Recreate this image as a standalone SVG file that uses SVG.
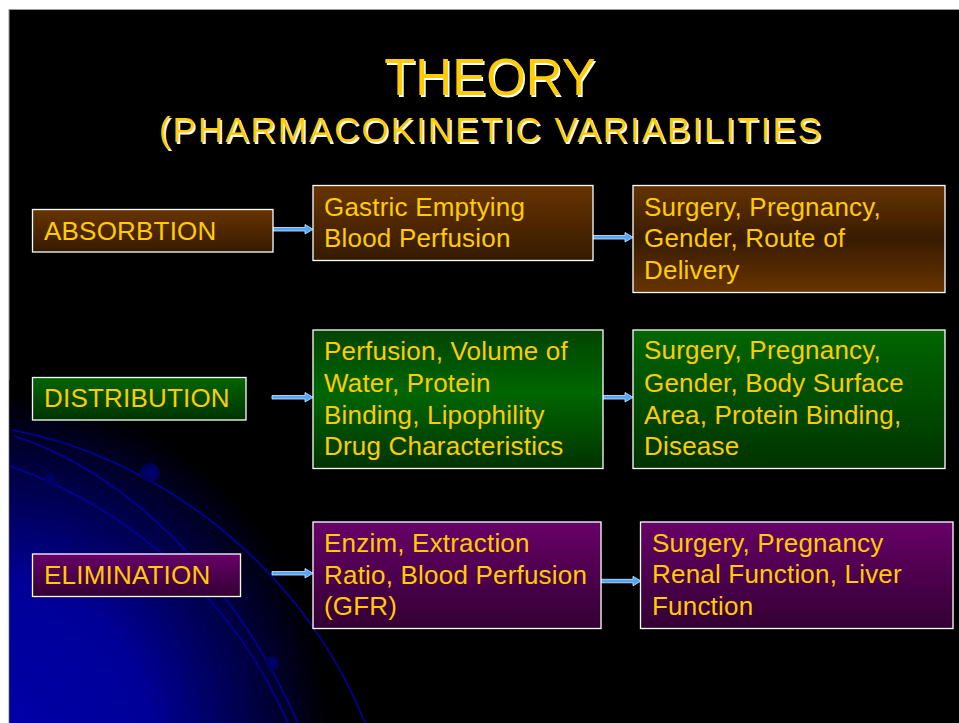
<svg xmlns="http://www.w3.org/2000/svg" width="959" height="723" viewBox="0 0 959 723">
<defs>
<style>
.t{font-family:"Liberation Sans",Arial,sans-serif;font-size:26px;fill:#ffcc00;letter-spacing:0.2px}
.title{font-family:"Liberation Sans",Arial,sans-serif;fill:#ffcc00;text-anchor:middle}
.sh{fill:#ffffff}
.box{stroke:#ffffff;stroke-width:1.3}
.arr{fill:#4da6ff;stroke:#d6ebff;stroke-width:0.8}
.arc{fill:none;stroke:#0000a0;stroke-width:1.6}
</style>
<linearGradient id="brDown" x1="0" y1="0" x2="0" y2="1"><stop offset="0" stop-color="#683400"/><stop offset="1" stop-color="#351a00"/></linearGradient>
<linearGradient id="brMid" x1="0" y1="0" x2="0" y2="1"><stop offset="0" stop-color="#663300"/><stop offset="0.5" stop-color="#381b00"/><stop offset="1" stop-color="#683400"/></linearGradient>
<linearGradient id="grDown" x1="0" y1="0" x2="0" y2="1"><stop offset="0" stop-color="#006600"/><stop offset="1" stop-color="#003300"/></linearGradient>
<linearGradient id="grMid" x1="0" y1="0" x2="0" y2="1"><stop offset="0" stop-color="#004400"/><stop offset="0.45" stop-color="#006600"/><stop offset="1" stop-color="#003300"/></linearGradient>
<linearGradient id="puDown" x1="0" y1="0" x2="0" y2="1"><stop offset="0" stop-color="#680068"/><stop offset="1" stop-color="#330033"/></linearGradient>
<radialGradient id="glow" gradientUnits="userSpaceOnUse" cx="0" cy="740" r="330" gradientTransform="translate(0 740) scale(1 1.05) translate(0 -740)">
<stop offset="0" stop-color="#0000a8"/><stop offset="0.45" stop-color="#000098"/><stop offset="0.75" stop-color="#00004a"/><stop offset="1" stop-color="#000000"/></radialGradient>
<radialGradient id="dot"><stop offset="0" stop-color="#00007a"/><stop offset="1" stop-color="#000050"/></radialGradient>
</defs>

<g id="background">
<rect x="0" y="0" width="959" height="723" fill="#ffffff"/>
<rect x="9" y="9.5" width="960" height="730" fill="#000000" stroke="#9a9a9a" stroke-width="1"/>
<rect x="9.5" y="380" width="420" height="343" fill="url(#glow)"/>
<path class="arc" d="M 12 430 C 150 455, 300 560, 365 723"/>
<path class="arc" d="M 14 436 C 120 470, 230 570, 298 723"/>
<path class="arc" d="M 10 466 C 120 505, 230 590, 288 723"/>
<circle cx="150" cy="473" r="10" fill="url(#dot)"/>
<circle cx="50" cy="480" r="7" fill="url(#dot)"/>
<circle cx="272" cy="663" r="7" fill="url(#dot)"/>
</g>

<g id="title">
<text class="title sh" x="491.5" y="96.5" font-size="51">THEORY</text>
<text class="title" x="490" y="95" font-size="51">THEORY</text>
<text class="title sh" x="492.5" y="143.5" font-size="35" letter-spacing="2">(PHARMACOKINETIC VARIABILITIES</text>
<text class="title" x="491" y="142" font-size="35" letter-spacing="2">(PHARMACOKINETIC VARIABILITIES</text>
</g>

<g id="connectors">
<path class="arr" d="M273 227.5 H305 V224.5 L313 229.3 L305 234 V231 H273 Z"/>
<path class="arr" d="M593 235.5 H625 V232.5 L633 237.3 L625 242 V239 H593 Z"/>
<path class="arr" d="M272 395.5 H305 V392.5 L313 397.3 L305 402 V399 H272 Z"/>
<path class="arr" d="M601 395.5 H625 V392.5 L633 397.3 L625 402 V399 H601 Z"/>
<path class="arr" d="M272 571.5 H305 V568.5 L313 573.3 L305 578 V575 H272 Z"/>
<path class="arr" d="M601 579.3 H633 V576.3 L641 581 L633 585.8 V582.8 H601 Z"/>
</g>

<g id="absorbtion">
<rect class="box" x="32.5" y="209.5" width="240.5" height="42.5" fill="url(#brDown)"/>
<text class="t" x="44" y="240">ABSORBTION</text>
</g>
<g id="gastric">
<rect class="box" x="313" y="185.5" width="280" height="75" fill="url(#brDown)"/>
<text class="t" x="324"><tspan x="324" y="216">Gastric Emptying</tspan><tspan x="324" y="247">Blood Perfusion</tspan></text>
</g>
<g id="absorbtion-factors">
<rect class="box" x="633" y="185.5" width="312" height="107" fill="url(#brMid)"/>
<text class="t"><tspan x="644" y="216">Surgery, Pregnancy,</tspan><tspan x="644" y="247">Gender, Route of</tspan><tspan x="644" y="279">Delivery</tspan></text>
</g>

<g id="distribution">
<rect class="box" x="32.5" y="377.5" width="213.5" height="42.5" fill="url(#grDown)"/>
<text class="t" x="44" y="407">DISTRIBUTION</text>
</g>
<g id="perfusion">
<rect class="box" x="313" y="330" width="290" height="138.5" fill="url(#grMid)"/>
<text class="t"><tspan x="324" y="359.5">Perfusion, Volume of</tspan><tspan x="324" y="391.5">Water, Protein</tspan><tspan x="324" y="423.5">Binding, Lipophility</tspan><tspan x="324" y="455">Drug Characteristics</tspan></text>
</g>
<g id="distribution-factors">
<rect class="box" x="633" y="330" width="312" height="138.5" fill="url(#grDown)"/>
<text class="t"><tspan x="644" y="359">Surgery, Pregnancy,</tspan><tspan x="644" y="391.5">Gender, Body Surface</tspan><tspan x="644" y="423.5">Area, Protein Binding,</tspan><tspan x="644" y="455">Disease</tspan></text>
</g>

<g id="elimination">
<rect class="box" x="32.5" y="554" width="208" height="42.5" fill="url(#puDown)"/>
<text class="t" x="44" y="584">ELIMINATION</text>
</g>
<g id="enzim">
<rect class="box" x="313" y="522" width="288" height="106.5" fill="url(#puDown)"/>
<text class="t"><tspan x="324" y="552">Enzim, Extraction</tspan><tspan x="324" y="583.5">Ratio, Blood Perfusion</tspan><tspan x="324" y="615">(GFR)</tspan></text>
</g>
<g id="elimination-factors">
<rect class="box" x="640.5" y="522" width="312.5" height="106.5" fill="url(#puDown)"/>
<text class="t"><tspan x="652" y="552">Surgery, Pregnancy</tspan><tspan x="652" y="583">Renal Function, Liver</tspan><tspan x="652" y="615">Function</tspan></text>
</g>
</svg>
